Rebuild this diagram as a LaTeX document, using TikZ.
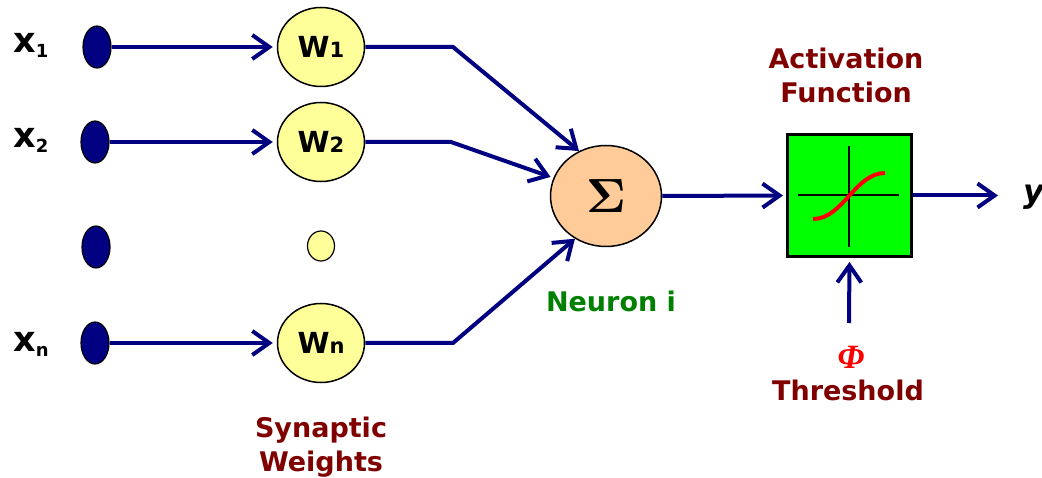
\documentclass[tikz,border=0pt]{standalone}
\usepackage{fontspec}
\usepackage{amsmath}
\setmainfont{DejaVu Sans}
\newfontfamily\timesf{Liberation Serif}
\usetikzlibrary{arrows.meta,shapes.geometric}
\definecolor{navyc}{HTML}{000080}
\definecolor{wyellow}{HTML}{FFFF99}
\definecolor{peach}{HTML}{FFCC99}
\definecolor{boxgreen}{HTML}{00FF00}
\definecolor{maroon}{HTML}{800000}
\definecolor{textgreen}{HTML}{008000}
\tikzset{
  conn/.style={draw=navyc, line width=4pt, -{Straight Barb[length=17pt,width=24pt]}},
  indot/.style={ellipse, draw=black, line width=1.2pt, fill=navyc, minimum width=28pt, minimum height=42pt, inner sep=0pt},
  wnode/.style={ellipse, draw=black, line width=1.5pt, fill=wyellow, minimum width=87pt, minimum height=79pt, inner sep=0pt},
  lbl/.style={font=\bfseries\fontsize{27}{34}\selectfont, text=maroon, align=center, inner sep=0pt},
  xlbl/.style={anchor=base west, inner sep=0pt, font=\bfseries},
}
\newcommand{\xsub}[1]{{\fontsize{35}{36}\selectfont x}\raisebox{-5pt}{\fontsize{18}{19}\selectfont #1}}
\newcommand{\wsub}[1]{{\fontsize{29}{30}\selectfont W}{\fontsize{21}{22}\selectfont #1}}
\begin{document}
\begin{tikzpicture}[x=1pt,y=-1pt]
\useasboundingbox (0,0) rectangle (1042,478);
% inputs
\node[indot] (d1) at (97,47) {};
\node[indot] (d2) at (95,142) {};
\node[indot] (d3) at (96,247) {};
\node[indot] (dn) at (95,343) {};
\node[xlbl] (x1) at (13,53) {\xsub{1}};
\node[xlbl] (x2) at (13,148) {\xsub{2}};
\node[xlbl] (xn) at (13,352) {\xsub{n}};
% weights
\node[wnode] (w1) at (321,47) {\bfseries\wsub{1}};
\node[wnode] (w2) at (321,142) {\bfseries\wsub{2}};
\node[ellipse, draw=black, line width=1.2pt, fill=wyellow, minimum width=27pt, minimum height=30pt, inner sep=0pt] (w3) at (321,246) {};
\node[wnode] (wn) at (321,343) {\bfseries\wsub{n}};
% sum
\node[ellipse, draw=black, line width=1.5pt, fill=peach, minimum width=111pt, minimum height=101pt, inner sep=0pt] (sum) at (606,196) {\scalebox{4.8}{$\boldsymbol{\Sigma}$}};
% activation box
\node[rectangle, draw=black, line width=3pt, fill=boxgreen, minimum width=124pt, minimum height=122pt, inner sep=0pt] (act) at (849.5,195.5) {};
\draw[black, line width=2pt] (849,146) -- (849,247);
\draw[black, line width=2pt] (798,195) -- (899,195);
\draw[red, line width=4pt] (813,219) .. controls (843,219) and (855,173) .. (885,173);
% coordinates
\coordinate (b1) at (453,47);
\coordinate (b2) at (451,142);
\coordinate (bn) at (453,343);
\coordinate (thr) at (849,323);
\coordinate (out) at (998,195.5);
% connectors
\draw[conn, shorten >=4pt] (d1) -- (w1);
\draw[conn, shorten >=4pt] (d2) -- (w2);
\draw[conn, shorten >=4pt] (dn) -- (wn);
\draw[conn, line join=miter] (w1.east) -- (b1) -- (sum.121);
\draw[conn, line join=miter, shorten >=3pt] (w2.east) -- (b2) -- (sum.161);
\draw[conn, line join=miter] (wn.east) -- (bn) -- (sum.234);
\draw[conn, shorten >=3pt] (sum.east) -- (act.west);
\draw[conn, shorten >=4pt] (thr) -- (act.south);
\draw[conn] (act.east) -- (out);
% labels
\node[lbl] (actlbl) at (846,75) {Activation\\Function};
\node[lbl] (synlbl) at (321,447) {Synaptic\\Weights};
\node[lbl] (thrlbl) at (848,390) {Threshold};
\node[lbl, text=textgreen] (neur) at (611,301) {Neuron i};
\node[inner sep=0pt, text=red] (phi) at (851,357) {\timesf\bfseries\itshape\fontsize{34}{36}\selectfont Φ};
\node[anchor=base west, inner sep=0pt] (ylbl) at (1023,203) {\bfseries\itshape\fontsize{32}{34}\selectfont y};
\end{tikzpicture}
\end{document}
